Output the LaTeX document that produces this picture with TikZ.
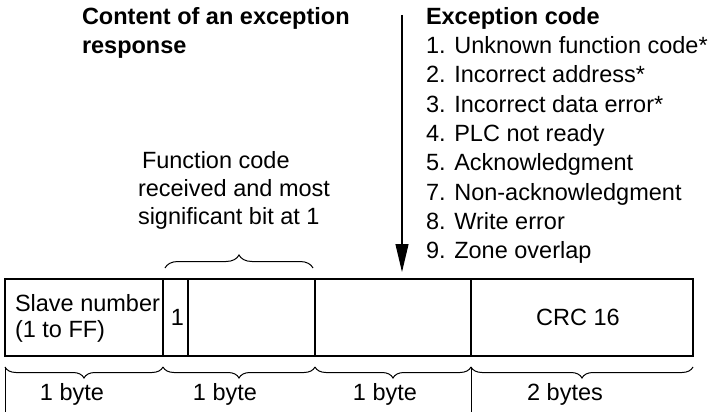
\documentclass[tikz,border=0pt]{standalone}
\usepackage{fontspec}
\setmainfont{Liberation Sans}
\usetikzlibrary{decorations.pathreplacing,arrows.meta,calc}
\begin{document}
\begin{tikzpicture}[x=1pt,y=-1pt,
  every node/.style={inner sep=0pt,outer sep=0pt,font=\fontsize{23.5}{29}\selectfont},
  txt/.style={anchor=base west},
  ctxt/.style={anchor=base},
  head/.style={anchor=base west,font=\fontsize{23.5}{29}\selectfont\bfseries},
  field/.style={draw,line width=1.1pt,minimum height=77pt,anchor=north west},
  bracedown/.style={draw,line width=1pt,decorate,decoration={brace,mirror,amplitude=11pt}},
  braceup/.style={draw,line width=1pt,decorate,decoration={brace,amplitude=13pt}},
  arr/.style={line width=1.1pt,-{Triangle[length=28pt,width=13pt]}}
]
\useasboundingbox (0,0) rectangle (715,412);

% headings
\node[head] (h1) at (82,25) {Content of an exception};
\node[head] (h2) at (82,54) {response};
\node[head] (ec) at (426,25) {Exception code};

% exception code list
\node[txt] (l1) at (426,53.5) {1. Unknown function code*};
\node[txt] (l2) at (426,82.8) {2. Incorrect address*};
\node[txt] (l3) at (426,112.1) {3. Incorrect data error*};
\node[txt] (l4) at (426,141.4) {4. PLC not ready};
\node[txt] (l5) at (426,170.7) {5. Acknowledgment};
\node[txt] (l7) at (426,200) {7. Non-acknowledgment};
\node[txt] (l8) at (426,229.3) {8. Write error};
\node[txt] (l9) at (426,258.6) {9. Zone overlap};

% function code text
\node[txt] (f1) at (142,168) {Function code};
\node[txt] (f2) at (138,196) {received and most};
\node[txt] (f3) at (138,224) {significant bit at 1};

% frame fields
\node[field,minimum width=158pt] (slave) at (5,279) {};
\node[field,minimum width=25pt]  (bit)   at (163,279) {};
\node[field,minimum width=127pt] (func)  at (188,279) {};
\node[field,minimum width=156pt] (exc)   at (315,279) {};
\node[field,minimum width=222pt] (crc)   at (471,279) {};

\node[txt] (s1) at (15,311) {Slave number};
\node[txt] (s2) at (15,337) {(1 to FF)};
\node[ctxt] (one) at ($(bit.center)+(2,8)$) {1};
\node[ctxt] (crctxt) at ($(crc.center)+(-4,8)$) {CRC 16};

% arrow
\coordinate (atop) at (402,15);
\coordinate (atip) at (402,272);
\draw[arr] (atop) -- (atip);

% top brace
\draw[braceup] ($(bit.north east)+(-23,-11)$) -- ($(func.north east)+(-2,-11)$);

% bottom braces
\draw[bracedown] ($(slave.south west)+(0,11)$) -- ($(slave.south east)+(0,11)$);
\draw[bracedown] ($(bit.south west)+(0,11)$) -- ($(func.south east)+(0,11)$);
\draw[bracedown] ($(exc.south west)+(0,11)$) -- ($(exc.south east)+(0,11)$);
\draw[bracedown] ($(crc.south west)+(0,11)$) -- ($(crc.south east)+(0,11)$);

% vertical rules below the braces
\draw[line width=1pt] ($(slave.south west)+(0,11)$) -- (5,412);
\draw[line width=1pt] ($(crc.south west)+(0,11)$) -- (471,412);

% byte labels
\node[ctxt] (b1) at (72,400) {1 byte};
\node[ctxt] (b2) at (225,400) {1 byte};
\node[ctxt] (b3) at (385,400) {1 byte};
\node[ctxt] (b4) at (565,400) {2 bytes};
\end{tikzpicture}
\end{document}
